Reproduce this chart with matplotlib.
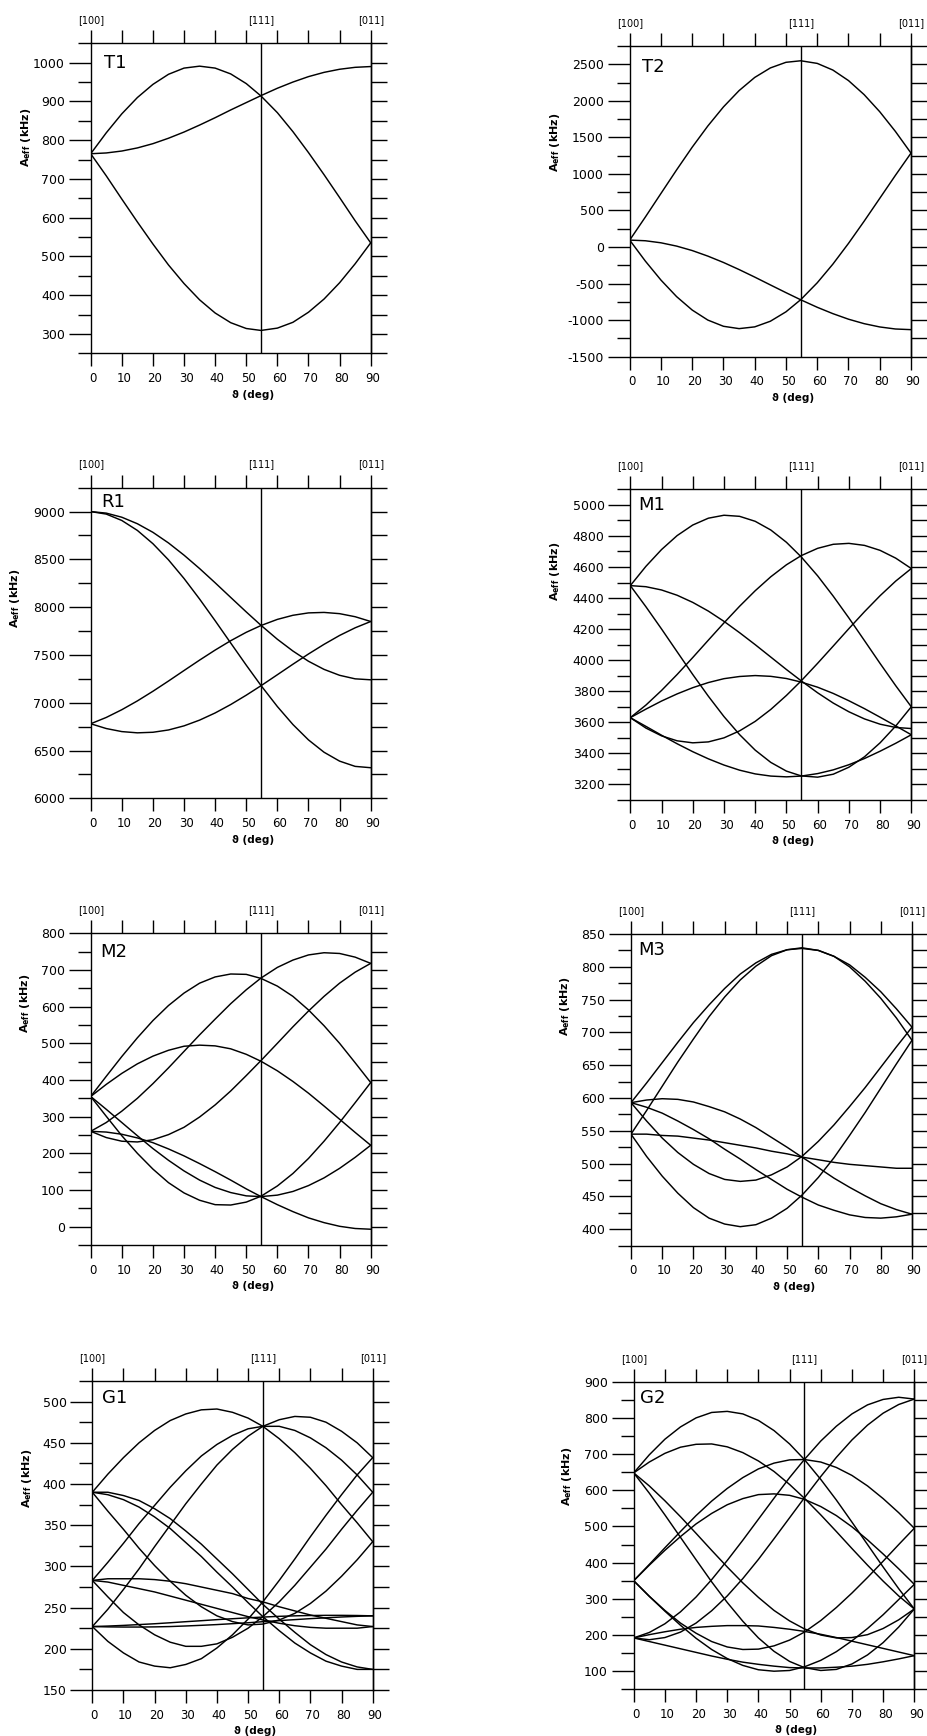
"""Angular dependence of A_eff for eight centres, field rotated [100] -> [111] -> [011].

Curves read off the published figure at 5 deg steps (plus the [111] crossing).
"""
import matplotlib

matplotlib.use("Agg")
import matplotlib.pyplot as plt  # noqa: E402
import matplotlib.transforms as mtransforms  # noqa: E402
import numpy as np  # noqa: E402
from matplotlib.ticker import FixedLocator, NullFormatter  # noqa: E402

W, H = 927, 1736

THETA = [0, 5, 10, 15, 20, 25, 30, 35, 40, 45, 50, 54.74, 60, 65, 70, 75, 80, 85, 90]
X_TICKS = [0, 10, 20, 30, 40, 50, 60, 70, 80, 90]
X_TICKLABELS = ["0", "10", "20", "30", "40", "50", "60", "70", "80", "90"]
DIR_NAMES = ["[100]", "[111]", "[011]"]
DIR_ANGLES = [0, 54.74, 90]
PANEL_NAMES = ["T1", "T2", "R1", "M1", "M2", "M3", "G1", "G2"]

T1_CURVES = [
    [765, 819, 868, 910, 944, 970, 986, 991, 986, 971, 946, 914, 871, 822, 768, 711, 652, 592, 535],
    [765, 767, 772, 780, 791, 805, 821, 839, 858, 878, 897, 915, 934, 950, 964, 975, 983, 988, 990],
    [765, 708, 648, 589, 532, 478, 430, 388, 354, 329, 314, 309, 315, 330, 356, 390, 432, 481, 535],
]
T1_YTICKS = [300, 400, 500, 600, 700, 800, 900, 1000]

T2_CURVES = [
    [95, 410, 733, 1055, 1366, 1656, 1917, 2140, 2320, 2450, 2527, 2548, 2512, 2421, 2277, 2085, 1851, 1582, 1285],
    [95, -192, -452, -678, -862, -999, -1084, -1116, -1092, -1015, -886, -719, -489, -234, 50, 353, 666, 980, 1285],
    [95, 86, 58, 13, -48, -124, -211, -308, -411, -518, -624, -722, -824, -911, -987, -1048, -1093, -1121, -1130],
]
T2_YTICKS = [-1500, -1000, -500, 0, 500, 1000, 1500, 2000, 2500]

R1_CURVES = [
    [9000, 8984, 8941, 8873, 8783, 8672, 8544, 8404, 8255, 8102, 7950, 7810, 7664, 7541, 7434, 7349, 7287, 7250, 7240],
    [9000, 8974, 8907, 8803, 8664, 8495, 8300, 8085, 7858, 7625, 7393, 7180, 6960, 6772, 6611, 6482, 6389, 6334, 6320],
    [6780, 6846, 6927, 7019, 7120, 7227, 7337, 7446, 7551, 7649, 7737, 7808, 7872, 7915, 7940, 7945, 7932, 7900, 7850],
    [6780, 6730, 6698, 6685, 6691, 6715, 6758, 6818, 6893, 6981, 7079, 7178, 7293, 7403, 7510, 7611, 7704, 7784, 7850],
]
R1_YTICKS = [6000, 6500, 7000, 7500, 8000, 8500, 9000]

M1_CURVES = [
    [4480, 4604, 4712, 4802, 4870, 4914, 4933, 4926, 4894, 4838, 4759, 4665, 4543, 4412, 4272, 4126, 3979, 3836, 3700],
    [4480, 4473, 4452, 4418, 4372, 4316, 4250, 4177, 4100, 4020, 3940, 3867, 3790, 3724, 3668, 3622, 3588, 3567, 3560],
    [4480, 4344, 4201, 4054, 3908, 3768, 3637, 3521, 3421, 3342, 3286, 3255, 3247, 3266, 3311, 3378, 3468, 3576, 3700],
    [3630, 3711, 3805, 3908, 4017, 4129, 4240, 4347, 4447, 4537, 4614, 4673, 4720, 4746, 4752, 4739, 4707, 4657, 4590],
    [3630, 3685, 3737, 3783, 3823, 3856, 3881, 3895, 3901, 3896, 3882, 3859, 3826, 3786, 3739, 3688, 3633, 3577, 3520],
    [3630, 3563, 3513, 3481, 3468, 3474, 3500, 3545, 3606, 3683, 3773, 3867, 3980, 4091, 4203, 4312, 4415, 4509, 4590],
    [3630, 3574, 3517, 3462, 3411, 3365, 3325, 3292, 3268, 3254, 3249, 3254, 3270, 3294, 3327, 3367, 3414, 3465, 3520],
]
M1_YTICKS = [3200, 3400, 3600, 3800, 4000, 4200, 4400, 4600, 4800, 5000]

M2_CURVES = [
    [355, 410, 464, 515, 562, 603, 637, 664, 681, 689, 688, 677, 656, 628, 591, 548, 500, 447, 393],
    [355, 388, 418, 444, 465, 481, 492, 495, 493, 485, 470, 451, 425, 396, 364, 329, 293, 257, 222],
    [355, 301, 248, 200, 157, 120, 92, 72, 60, 59, 67, 83, 111, 145, 186, 233, 284, 338, 393],
    [355, 320, 284, 248, 213, 181, 152, 127, 107, 93, 84, 82, 86, 96, 112, 133, 159, 189, 222],
    [260, 284, 315, 350, 390, 433, 478, 523, 566, 608, 646, 678, 707, 727, 741, 747, 745, 735, 718],
    [260, 243, 233, 231, 237, 251, 271, 299, 332, 370, 412, 453, 500, 545, 588, 628, 664, 694, 718],
    [260, 258, 252, 242, 229, 212, 193, 172, 150, 127, 103, 82, 60, 41, 24, 11, 1, -5, -7],
]
M2_YTICKS = [0, 100, 200, 300, 400, 500, 600, 700, 800]

M3_CURVES = [
    [593, 623, 654, 685, 715, 742, 767, 789, 806, 819, 826, 828, 825, 816, 803, 784, 762, 736, 708],
    [593, 565, 539, 517, 499, 485, 476, 473, 475, 483, 495, 511, 534, 559, 587, 616, 647, 678, 708],
    [593, 597, 599, 598, 594, 587, 579, 568, 555, 540, 525, 510, 494, 478, 464, 451, 439, 430, 423],
    [593, 586, 577, 565, 552, 538, 522, 507, 491, 476, 461, 449, 437, 429, 422, 418, 417, 419, 423],
    [545, 581, 618, 655, 690, 724, 754, 780, 801, 817, 826, 829, 825, 816, 800, 778, 752, 722, 688],
    [545, 511, 481, 455, 433, 417, 408, 404, 407, 417, 432, 452, 479, 509, 543, 578, 615, 652, 688],
    [545, 545, 543, 542, 539, 536, 532, 528, 524, 519, 515, 510, 506, 502, 499, 497, 495, 493, 493],
]
M3_YTICKS = [400, 450, 500, 550, 600, 650, 700, 750, 800, 850]

G1_CURVES = [
    [390, 412, 432, 450, 465, 477, 485, 490, 491, 487, 480, 470, 455, 438, 419, 398, 375, 353, 330],
    [390, 367, 345, 322, 301, 282, 265, 251, 240, 233, 229, 230, 235, 243, 255, 270, 288, 308, 330],
    [283, 305, 328, 352, 374, 396, 416, 434, 448, 459, 467, 470, 470, 465, 456, 444, 429, 411, 390],
    [283, 263, 244, 229, 217, 208, 203, 203, 206, 214, 225, 239, 257, 277, 299, 321, 345, 368, 390],
    [227, 248, 272, 297, 324, 350, 376, 400, 423, 442, 458, 470, 478, 482, 481, 475, 464, 450, 432],
    [227, 209, 195, 184, 179, 177, 181, 188, 201, 217, 236, 257, 283, 309, 336, 362, 387, 411, 432],
    [390, 390, 386, 380, 370, 358, 343, 327, 309, 291, 272, 254, 236, 220, 205, 193, 184, 178, 175],
    [390, 387, 381, 372, 360, 346, 329, 312, 293, 275, 256, 239, 222, 207, 195, 185, 179, 175, 175],
    [283, 285, 285, 285, 284, 282, 279, 275, 271, 267, 261, 257, 251, 246, 241, 237, 233, 229, 227],
    [283, 281, 277, 273, 269, 264, 259, 254, 249, 244, 239, 235, 231, 228, 226, 225, 225, 225, 227],
    [227, 227.6, 228.4, 229.4, 230.4, 231.6, 232.9, 234.1, 235.4, 236.5, 237.6, 238.5, 239.4, 240, 240.4,
     240.6, 240.6, 240.4, 240],
    [227, 226.6, 226.4, 226.4, 226.6, 227, 227.7, 228.5, 229.4, 230.5, 231.6, 232.9, 234.2, 235.4, 236.6,
     237.6, 238.6, 239.4, 240],
]
G1_YTICKS = [150, 200, 250, 300, 350, 400, 450, 500]

G2_CURVES = [
    [648, 698, 741, 775, 800, 815, 818, 811, 793, 765, 728, 685, 630, 573, 512, 450, 388, 328, 272],
    [648, 592, 532, 470, 408, 347, 290, 238, 192, 155, 127, 110, 102, 105, 120, 145, 179, 222, 272],
    [648, 678, 702, 719, 727, 728, 720, 704, 681, 652, 616, 578, 532, 486, 439, 393, 349, 308, 272],
    [648, 612, 571, 527, 481, 434, 388, 344, 304, 268, 239, 217, 200, 192, 193, 201, 218, 242, 272],
    [350, 395, 441, 486, 530, 570, 605, 635, 659, 675, 684, 685, 678, 663, 641, 612, 577, 538, 495],
    [350, 307, 268, 233, 205, 182, 167, 160, 161, 170, 186, 208, 240, 276, 316, 359, 404, 450, 495],
    [350, 393, 434, 472, 507, 536, 560, 577, 588, 590, 586, 575, 555, 530, 499, 463, 424, 383, 340],
    [350, 307, 266, 227, 191, 160, 135, 116, 104, 100, 102, 112, 130, 154, 184, 218, 256, 298, 340],
    [192, 207, 231, 264, 305, 353, 406, 462, 520, 578, 635, 685, 736, 777, 811, 836, 851, 857, 852],
    [192, 187, 193, 208, 233, 267, 308, 356, 409, 466, 524, 579, 638, 691, 739, 780, 813, 837, 852],
    [192, 201, 209, 216, 221, 224, 226, 226, 225, 221, 216, 210, 202, 193, 183, 173, 163, 153, 143],
    [192, 182, 172, 162, 152, 142, 133, 125, 119, 114, 110, 109, 109, 111, 114, 119, 126, 134, 143],
]
G2_YTICKS = [100, 200, 300, 400, 500, 600, 700, 800, 900]

# axes box in pixels (left, top, right, bottom), y range, minor step,
# y-label centre and panel tag position in axes fractions
LAYOUT = {
    "T1": dict(box=(90.7, 43.3, 370.7, 353.3), ylim=(250, 1050), step=50, ylab=(-0.231, 0.697), tag=(0.047, 0.935)),
    "T2": dict(box=(629.7, 46, 911, 356.7), ylim=(-1500, 2750), step=250, ylab=(-0.266, 0.69), tag=(0.044, 0.933)),
    "R1": dict(box=(90.7, 487.7, 370.7, 798.3), ylim=(6000, 9250), step=250, ylab=(-0.27, 0.645), tag=(0.039, 0.955)),
    "M1": dict(box=(630.3, 489.3, 911.3, 800), ylim=(3100, 5100), step=100, ylab=(-0.267, 0.735), tag=(0.03, 0.95)),
    "M2": dict(box=(90.7, 933.3, 370.7, 1245), ylim=(-50, 800), step=50, ylab=(-0.235, 0.776), tag=(0.033, 0.941)),
    "M3": dict(box=(631, 934, 912, 1245.7), ylim=(375, 850), step=25, ylab=(-0.234, 0.767), tag=(0.027, 0.949)),
    "G1": dict(box=(92.3, 1381, 372.7, 1690), ylim=(150, 525), step=25, ylab=(-0.234, 0.686), tag=(0.033, 0.944)),
    "G2": dict(box=(633.7, 1381.7, 914.3, 1689.3), ylim=(50, 900), step=50, ylab=(-0.238, 0.691), tag=(0.024, 0.946)),
}
DATA = {"T1": (T1_CURVES, T1_YTICKS), "T2": (T2_CURVES, T2_YTICKS), "R1": (R1_CURVES, R1_YTICKS),
        "M1": (M1_CURVES, M1_YTICKS), "M2": (M2_CURVES, M2_YTICKS), "M3": (M3_CURVES, M3_YTICKS),
        "G1": (G1_CURVES, G1_YTICKS), "G2": (G2_CURVES, G2_YTICKS)}

LW = 1.0


def draw_panel(fig, name):
    curves, yticks = DATA[name]
    lay = LAYOUT[name]
    l, t, r, b = lay["box"]
    ax = fig.add_axes([l / W, 1 - b / H, (r - l) / W, (b - t) / H])
    for ys in curves:
        ax.plot(THETA, ys, color="black", lw=1.05, solid_capstyle="round", solid_joinstyle="round")
    ax.axvline(54.74, color="black", lw=LW)
    ax.set_xlim(0, 90)
    ax.set_ylim(*lay["ylim"])

    ax.set_xticks(X_TICKS)
    ax.set_xticklabels(X_TICKLABELS, fontsize=8.5)
    ax.set_yticks(yticks)
    ax.set_yticklabels([str(v) for v in yticks], fontsize=9)
    lo, hi = lay["ylim"]
    steps = np.arange(lo, hi + lay["step"] / 2, lay["step"])
    minors = [v for v in steps if not np.any(np.isclose(v, yticks))]
    ax.yaxis.set_minor_locator(FixedLocator(minors))
    ax.tick_params(axis="x", which="major", direction="out", length=9.5, width=LW,
                   top=True, bottom=True, pad=4)
    ax.tick_params(axis="y", which="major", direction="out", length=16, width=LW, pad=2.5)
    ax.tick_params(axis="y", which="minor", direction="out", length=9.5, width=LW)
    for sp in ax.spines.values():
        sp.set_linewidth(LW)

    # ticks on the right side: every step, no labels
    sec = ax.secondary_yaxis("right")
    sec.yaxis.set_major_locator(FixedLocator(steps))
    sec.yaxis.set_major_formatter(NullFormatter())
    sec.tick_params(direction="out", length=11.5, width=LW)
    sec.spines["right"].set_linewidth(LW)

    shift = mtransforms.ScaledTranslation(1.5 / 72, 0, fig.dpi_scale_trans)
    for lab in ax.get_xticklabels():
        lab.set_transform(lab.get_transform() + shift)

    for txt, ang in zip(DIR_NAMES, DIR_ANGLES):
        ax.text(ang, 1.075, txt, transform=ax.get_xaxis_transform(), ha="center", va="center", fontsize=7)

    ax.set_xlabel("ϑ (deg)", fontsize=7.5, fontweight="bold")
    ax.xaxis.label.set_va("center")
    ax.xaxis.set_label_coords(0.58, -0.133)
    ax.set_ylabel(r"$\mathbf{A}_{\mathbf{eff}}$ (kHz)", fontsize=8, fontweight="bold")
    ax.yaxis.label.set_va("center")
    ax.yaxis.set_label_coords(*lay["ylab"])
    tx, ty = lay["tag"]
    ax.text(tx, ty, name, transform=ax.transAxes, ha="left", va="center", fontsize=13)
    return ax


def main():
    fig = plt.figure(figsize=(W / 100, H / 100), dpi=100)
    fig.patch.set_facecolor("white")
    for name in PANEL_NAMES:
        draw_panel(fig, name)
    fig.savefig("out.png", dpi=100)


if __name__ == "__main__":
    main()
